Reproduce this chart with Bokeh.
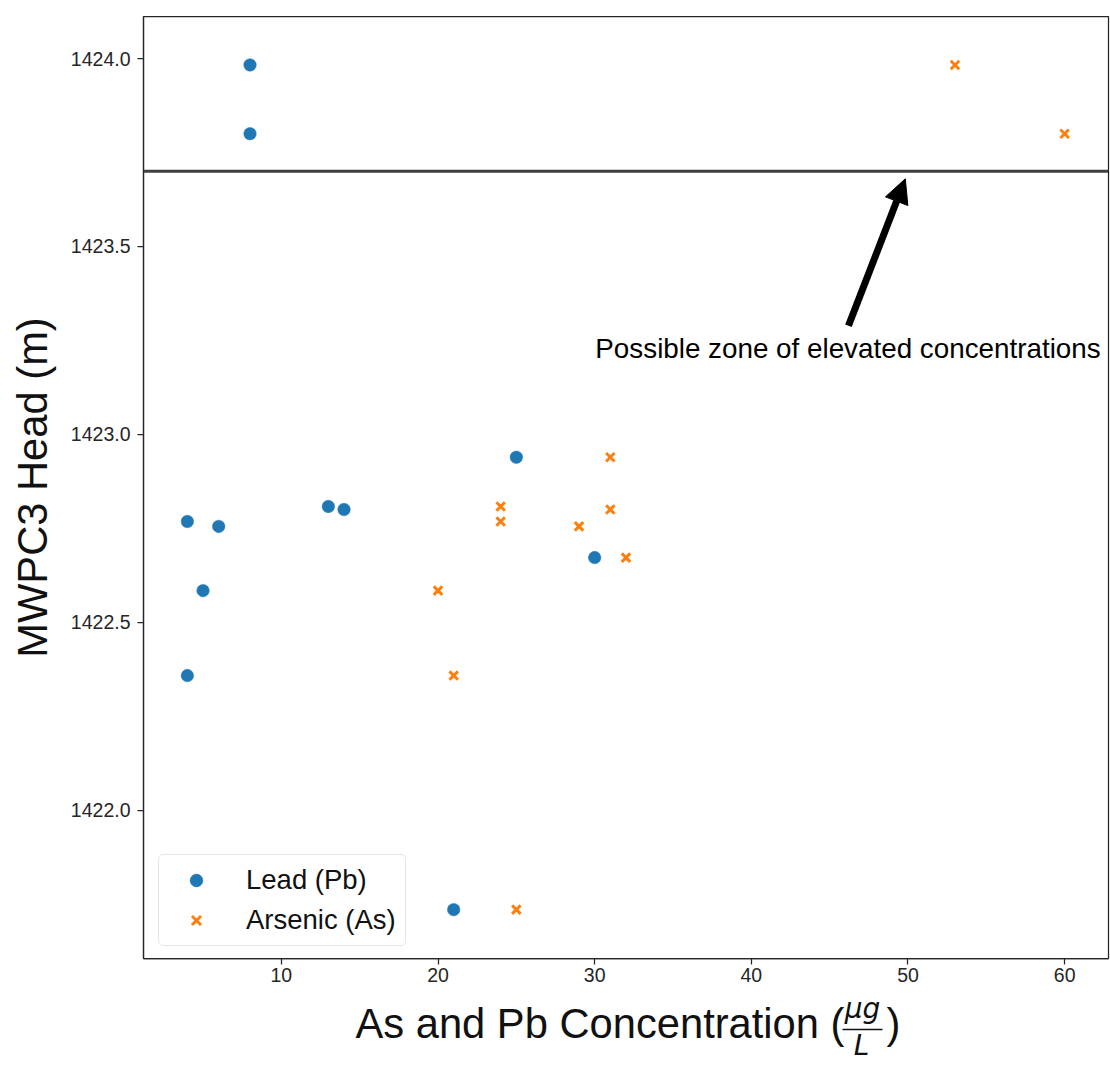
from bokeh.plotting import figure
from bokeh.layouts import column
from bokeh.models import (Range1d, FixedTicker, Label, Arrow, NormalHead, Span,
                          NumeralTickFormatter)
from bokeh.core.properties import value
from bokeh.embed import file_html
from bokeh.resources import INLINE

# ---- data ----
head_m = [1423.983, 1423.800, 1422.768, 1422.755, 1422.584, 1422.358,
          1422.808, 1422.800, 1422.939, 1422.672, 1421.735]
lead_ugL = [8, 8, 4, 6, 5, 4, 13, 14, 25, 30, 21]
arsenic_ugL = [53, 60, 24, 29, 20, 21, 24, 31, 31, 32, 25]

x_ticks = [10, 20, 30, 40, 50, 60]
y_ticks = [1422.0, 1422.5, 1423.0, 1423.5, 1424.0]

zone_head = 1423.7
arrow_tail = [46.2, 1423.289]
arrow_tip = [49.83, 1423.68]
note_xy = [46.17, 1423.229]
note_text = "Possible zone of elevated concentrations"

FONT = "Liberation Sans"
DARK = "#262626"
TXT = "#111111"

W = 1110
MAIN_H = 990
LABEL_H = 78
LEFT, RIGHT = 143, 2

p = figure(width=W, height=MAIN_H,
           x_range=Range1d(1.2, 62.8), y_range=Range1d(1421.605, 1424.112),
           output_backend="svg", toolbar_location=None,
           min_border_left=LEFT, min_border_right=RIGHT,
           min_border_top=16, min_border_bottom=MAIN_H - 958)

p.grid.visible = False
p.outline_line_color = DARK
p.outline_line_width = 1.25
p.background_fill_color = "white"
p.border_fill_color = "white"

for ax in (p.xaxis[0], p.yaxis[0]):
    ax.axis_line_color = DARK
    ax.axis_line_width = 1.25
    ax.major_tick_line_color = DARK
    ax.major_tick_line_width = 1.25
    ax.major_tick_out = 6
    ax.major_tick_in = 0
    ax.minor_tick_line_color = None
    ax.major_label_text_font = FONT
    ax.major_label_text_font_size = "19.5px"
    ax.major_label_text_color = DARK

p.xaxis.ticker = FixedTicker(ticks=x_ticks)
p.yaxis.ticker = FixedTicker(ticks=y_ticks)
p.yaxis.formatter = NumeralTickFormatter(format="0.0")
p.xaxis.major_label_standoff = 3
p.yaxis.major_label_standoff = 7

p.yaxis.axis_label = "MWPC3 Head (m)"
p.yaxis.axis_label_text_font = FONT
p.yaxis.axis_label_text_font_size = "41.7px"
p.yaxis.axis_label_text_font_style = "normal"
p.yaxis.axis_label_text_color = TXT
p.yaxis.axis_label_standoff = 12

# horizontal zone line
p.add_layout(Span(location=zone_head, dimension="width",
                  line_color="#3f3f3f", line_width=3))

# scatter series
p.scatter(lead_ugL, head_m, marker="circle", size=12.5,
          fill_color="#1f77b4", line_color="#1f77b4", line_width=0.5,
          legend_label="Lead (Pb)")
p.scatter(arsenic_ugL, head_m, marker="x", size=12,
          line_color="#ff7f0e", line_width=3,
          legend_label="Arsenic (As)")

# arrow + note
p.add_layout(Arrow(end=NormalHead(size=24, fill_color="black", line_color="black"),
                   x_start=arrow_tail[0], y_start=arrow_tail[1],
                   x_end=arrow_tip[0], y_end=arrow_tip[1],
                   line_color="black", line_width=7))
p.add_layout(Label(x=note_xy[0], y=note_xy[1], text=note_text,
                   text_align="center", text_baseline="alphabetic",
                   text_font=FONT, text_font_size="27.8px",
                   text_color="black"))

# legend
lg = p.legend[0]
lg.location = (15, 12)
lg.label_text_font = FONT
lg.label_text_font_size = "27.5px"
lg.label_text_color = TXT
lg.glyph_width = 56
lg.glyph_height = 32
lg.label_height = 32
lg.spacing = 8
lg.padding = 9
lg.margin = 0
lg.label_standoff = 22
lg.border_line_color = "#cccccc"
lg.border_line_width = 1
lg.background_fill_color = "white"
lg.background_fill_alpha = 0.8
if "border_radius" in lg.properties():
    lg.border_radius = 5

# ---- x-axis title strip: "As and Pb Concentration (µg/L)" ----
# frame aligned with the main plot; x in page pixels, y in pixels from strip bottom
q = figure(width=W, height=LABEL_H,
           x_range=Range1d(LEFT, W - RIGHT), y_range=Range1d(0, LABEL_H),
           output_backend="svg", toolbar_location=None,
           min_border_left=LEFT, min_border_right=RIGHT,
           min_border_top=0, min_border_bottom=0)
q.axis.visible = False
q.grid.visible = False
q.outline_line_color = None
q.background_fill_color = "white"
q.border_fill_color = "white"

q.text(x=[355], y=[45], text=["As and Pb Concentration ("], text_font=value(FONT),
       text_font_size="41.7px", text_align="left", text_baseline="middle",
       text_color=TXT)
q.text(x=[862, 861], y=[60, 23], text=["µg", "L"], text_font=value("DejaVu Sans"),
       text_font_style="italic", text_font_size="28px", text_align="center",
       text_baseline="middle", text_color=TXT)
q.segment(x0=[842], y0=[39], x1=[882], y1=[39], line_color=TXT, line_width=1.5)
q.text(x=[886], y=[45], text=[")"], text_font=value(FONT),
       text_font_size="41.7px", text_align="left", text_baseline="middle",
       text_color=TXT)

layout = column(p, q, spacing=0)
open("out.html", "w").write(file_html(layout, INLINE))
